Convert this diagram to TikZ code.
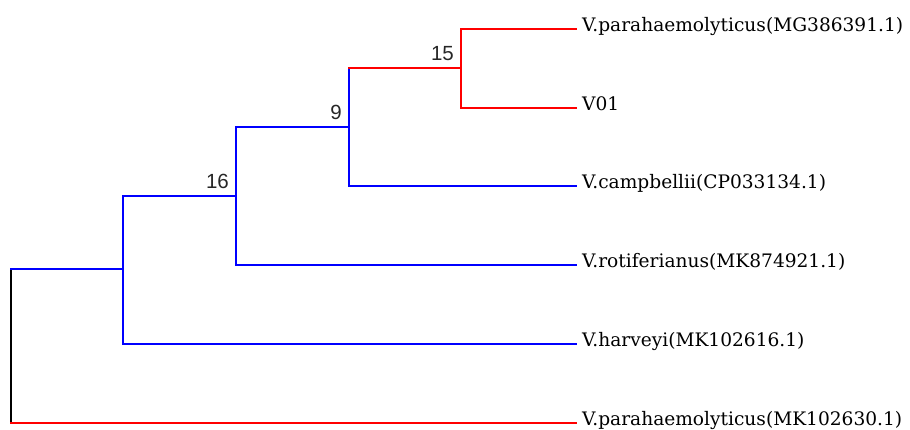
\documentclass[tikz,border=0pt]{standalone}
\usepackage{fontspec}
\setmainfont{DejaVu Serif}
\newfontfamily\bootfont{Liberation Sans}
\usetikzlibrary{positioning}
\newcommand{\tiplabel}[1]{\raisebox{-2.5pt}{#1}}
\begin{document}
\begin{tikzpicture}[x=1pt,y=-1pt]
\tikzstyle{leaf}=[anchor=base west, inner ysep=0pt, inner xsep=6pt, font=\fontsize{18.6}{22}\selectfont]
\tikzstyle{boot}=[anchor=south east, inner sep=0pt, xshift=-7pt, yshift=7pt, text=black!85, font=\bootfont\fontsize{20.5}{24}\selectfont]
\tikzstyle{branch}=[draw, line width=2.3pt, line cap=rect]
\useasboundingbox (0,0) rectangle (910,430);
% inner nodes of the tree
\coordinate (root) at (11,346);
\coordinate (nh) at (123,269);
\coordinate (n16) at (236,196);
\coordinate (n9) at (349,127);
\coordinate (n15) at (461,68);
% tips
\node[leaf] (vp1) at (576,29) {\tiplabel{V.parahaemolyticus(MG386391.1)}};
\node[leaf] (v01) at (576,108) {\tiplabel{V01}};
\node[leaf] (vc) at (576,186) {\tiplabel{V.campbellii(CP033134.1)}};
\node[leaf] (vr) at (576,265) {\tiplabel{V.rotiferianus(MK874921.1)}};
\node[leaf] (vh) at (576,344) {\tiplabel{V.harveyi(MK102616.1)}};
\node[leaf] (vp2) at (576,423) {\tiplabel{V.parahaemolyticus(MK102630.1)}};
% support values
\node[boot] (b15) at (n15) {15};
\node[boot] (b9) at (n9) {9};
\node[boot] (b16) at (n16) {16};
\path[branch, black] (root |- nh) -- (root |- vp2.base west);
\path[branch, blue] (nh |- n16) -- (nh |- vh.base west);
\path[branch, blue] (n16 |- n9) -- (n16 |- vr.base west);
\path[branch, blue] (n9 |- n15) -- (n9 |- vc.base west);
\path[branch, red] (n15 |- vp1.base west) -- (n15 |- v01.base west);
\path
    (root |- nh) edge [branch, blue] (nh)
    (root |- vp2.base west) edge [branch, red] (vp2.base west)
      (nh |- n16) edge [branch, blue] (n16)
      (nh |- vh.base west) edge [branch, blue] (vh.base west)
    (n16 |- n9) edge [branch, blue] (n9)
    (n16 |- vr.base west) edge [branch, blue] (vr.base west)
      (n9 |- n15) edge [branch, red] (n15)
      (n9 |- vc.base west) edge [branch, blue] (vc.base west)
    (n15 |- vp1.base west) edge [branch, red] (vp1.base west)
    (n15 |- v01.base west) edge [branch, red] (v01.base west)
;
\end{tikzpicture}
\end{document}
